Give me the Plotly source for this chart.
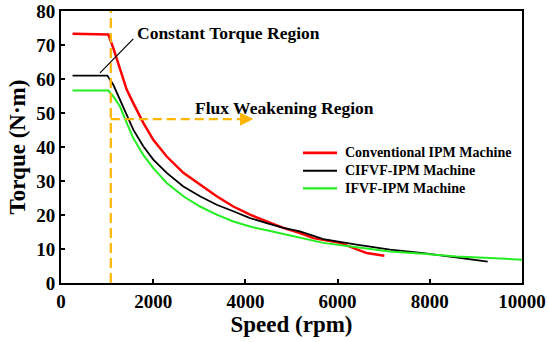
import plotly.graph_objects as go

# Data
conv_speed = [250, 1026, 1135, 1280, 1425, 1568, 1785, 2002, 2293, 2654, 3015, 3377, 3738, 4100, 4462, 4822, 5184, 5473, 6052, 6341, 6631, 7014]
conv_torque = [73.3, 73.1, 69.1, 62.7, 56.9, 52.9, 47.1, 42.1, 37.2, 32.4, 28.9, 25.5, 22.5, 20.1, 18.1, 16.2, 14.7, 13.2, 11.8, 10.3, 8.8, 8.0]

cifvf_speed = [250, 1005, 1135, 1280, 1425, 1568, 1785, 2002, 2293, 2654, 3015, 3377, 3738, 4100, 4462, 4822, 5184, 5690, 6413, 7137, 7860, 8583, 9256]
cifvf_torque = [61.0, 61.0, 58.3, 53.9, 49.0, 45.1, 40.2, 36.3, 32.4, 28.4, 25.5, 23.0, 21.1, 19.1, 17.6, 16.2, 15.2, 12.9, 11.3, 9.8, 8.8, 7.6, 6.3]

ifvf_speed = [250, 1026, 1135, 1280, 1425, 1568, 1785, 2002, 2293, 2654, 3015, 3377, 3738, 4100, 4462, 4822, 5184, 5690, 6413, 7137, 7860, 8583, 9306, 10000]
ifvf_torque = [56.6, 56.6, 54.9, 51.9, 47.1, 42.6, 37.7, 33.8, 29.4, 25.5, 22.5, 20.1, 18.1, 16.6, 15.5, 14.4, 13.5, 11.8, 10.5, 9.3, 8.6, 7.8, 7.35, 6.85]

series_names = ["Conventional IPM Machine", "CIFVF-IPM Machine", "IFVF-IPM Machine"]
series_colors = ["#ff0000", "#000000", "#22ee22"]
series_widths = [2.5, 1.8, 2.0]

base_speed = 1080
arrow_torque = 48.2
arrow_end = 4170

x_ticks = [0, 2000, 4000, 6000, 8000, 10000]
y_ticks = [0, 10, 20, 30, 40, 50, 60, 70, 80]

FONT = "Liberation Serif"
ORANGE = "#ffb400"

fig = go.Figure()
for sx, sy, nm, col, w in zip([conv_speed, cifvf_speed, ifvf_speed],
                              [conv_torque, cifvf_torque, ifvf_torque],
                              series_names, series_colors, series_widths):
    fig.add_trace(go.Scatter(x=sx, y=sy, mode="lines", name=nm, showlegend=False,
                             line=dict(color=col, width=w)))

# vertical dashed line (base speed)
fig.add_shape(type="line", x0=base_speed, x1=base_speed, y0=0, y1=80, xref="x", yref="y",
              line=dict(color=ORANGE, width=2.2, dash="10px,5px"))
# horizontal dashed arrow
fig.add_shape(type="line", x0=base_speed, x1=arrow_end - 200, y0=arrow_torque, y1=arrow_torque,
              xref="x", yref="y", line=dict(color=ORANGE, width=2.2, dash="9px,5px"))
fig.add_annotation(x=arrow_end, y=arrow_torque, ax=arrow_end - 300, ay=arrow_torque, xref="x", yref="y",
                   axref="x", ayref="y", text="", showarrow=True, arrowhead=2, arrowsize=1.2,
                   arrowwidth=2.2, arrowcolor=ORANGE)

# leader line for constant torque region
fig.add_shape(type="line", x0=846, y0=61.8, x1=1568, y1=71.8, xref="x", yref="y",
              line=dict(color="#000000", width=1.2))
fig.add_annotation(x=1600, y=73.5, xref="x", yref="y", text="<b>Constant Torque Region</b>",
                   showarrow=False, xanchor="left", yanchor="middle",
                   font=dict(family=FONT, size=17.5, color="#000"))
fig.add_annotation(x=2870, y=51.5, xref="x", yref="y", text="<b>Flux Weakening Region</b>",
                   showarrow=False, xanchor="left", yanchor="middle",
                   font=dict(family=FONT, size=17.5, color="#000"))

# legend (drawn in paper coordinates)
L, W, T, H = 61, 461, 11, 272.3
leg_rows = [153, 171, 188.5]
for nm, col, w, py in zip(series_names, series_colors, series_widths, leg_rows):
    yp = (T + H - py) / H
    fig.add_shape(type="line", xref="paper", yref="paper", x0=(303 - L) / W, x1=(337 - L) / W,
                  y0=yp, y1=yp, line=dict(color=col, width=w + 0.3))
    fig.add_annotation(xref="paper", yref="paper", x=(343 - L) / W, y=yp, text="<b>%s</b>" % nm,
                       showarrow=False, xanchor="left", yanchor="middle",
                       font=dict(family=FONT, size=14, color="#000"))

axis_common = dict(showline=True, linecolor="#000", linewidth=2, mirror=True, ticks="inside",
                   ticklen=4, tickwidth=1.5, tickcolor="#000", showgrid=False, zeroline=False,
                   automargin=False, tickfont=dict(family=FONT, size=19, color="#000"))

fig.update_xaxes(range=[0, 10000], tickvals=x_ticks,
                 ticktext=["<b>%d</b>" % v for v in x_ticks],
                 title=dict(text="<b>Speed (rpm)</b>", font=dict(family=FONT, size=23, color="#000"), standoff=4),
                 **axis_common)
fig.update_yaxes(range=[0, 80], tickvals=y_ticks,
                 ticktext=["<b>%d</b>" % v for v in y_ticks],
                 title=dict(text="<b>Torque (N·m)</b>", font=dict(family=FONT, size=23, color="#000"), standoff=4),
                 **axis_common)

fig.update_layout(width=549, height=342, margin=dict(l=61, r=27, t=11, b=59),
                  plot_bgcolor="white", paper_bgcolor="white", showlegend=False)

fig.write_html("out.html")
